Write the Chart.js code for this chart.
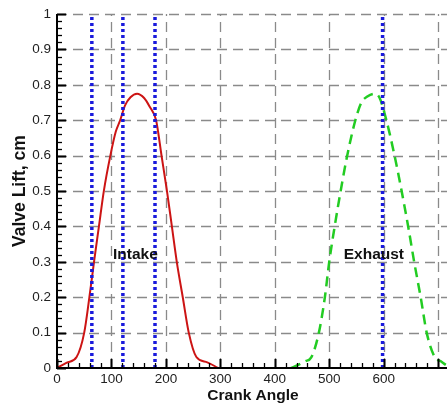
<!DOCTYPE html>
<html>
<head>
<meta charset="utf-8">
<script src="https://cdn.jsdelivr.net/npm/chart.js@4/dist/chart.umd.min.js"></script>
<style>
  html, body { margin: 0; padding: 0; background: #fff; overflow: hidden; }
  #wrap { width: 460px; height: 405px; }
</style>
</head>
<body>
<div id="wrap"><canvas id="c" width="460" height="405"></canvas></div>
<script>
// Intake valve lift profile (crank angle in degrees, lift in cm)
const intakeAngle = [0, 18, 36, 50, 59.5, 68, 77, 86, 98, 108, 116, 125, 135, 147, 160, 170, 182, 192, 202, 211, 220, 231, 242, 256, 276, 296];
const intakeLift  = [0, 0.015, 0.031, 0.1, 0.2, 0.3, 0.4, 0.5, 0.6, 0.668, 0.7, 0.742, 0.765, 0.775, 0.763, 0.739, 0.7, 0.6, 0.5, 0.4, 0.3, 0.2, 0.1, 0.031, 0.016, 0];

// Exhaust valve lift profile
const exhaustAngle = [430, 445, 456, 467, 481, 492, 500, 510, 521, 533, 548, 559, 570, 583, 592, 605, 620, 633, 645, 656, 668, 679, 694, 705, 715, 725];
const exhaustLift  = [0, 0.01, 0.019, 0.03, 0.1, 0.2, 0.3, 0.4, 0.5, 0.6, 0.7, 0.75, 0.767, 0.775, 0.765, 0.7, 0.6, 0.5, 0.4, 0.3, 0.2, 0.1, 0.03, 0.019, 0.008, 0];

// Crank angles marked with vertical dotted lines
const markerAngles = [64, 121, 180, 598];

// Phase labels and where they sit (crank angle, lift)
const phaseNames  = ['Intake', 'Exhaust'];
const phaseAngles = [144, 582];
const phaseLifts  = [0.32, 0.32];

// Axis ranges and tick spacing
const xRange = [0, 720];
const xMajor = 100, xMinor = 20;
const yRange = [0, 1];
const yMajor = 0.1, yMinor = 0.02;

const toPoints = (xs, ys) => xs.map((x, i) => ({ x, y: ys[i] }));

const markerSets = markerAngles.map(a => ({
  data: [{ x: a, y: yRange[0] }, { x: a, y: yRange[1] }],
  borderColor: '#1a1adc',
  borderWidth: 3.5,
  borderDash: [3, 3],
  pointRadius: 0,
  fill: false,
  tension: 0
}));

const gridAndAxes = {
  id: 'gridAndAxes',
  beforeDatasetsDraw(chart) {
    const { ctx, chartArea: a, scales: { x, y } } = chart;
    ctx.save();
    ctx.strokeStyle = '#8a8a8a';
    ctx.lineWidth = 1.3;
    ctx.setLineDash([10, 6]);
    for (let v = xRange[0] + xMajor; v <= xRange[1]; v += xMajor) {
      const px = Math.round(x.getPixelForValue(v)) + 0.5;
      ctx.beginPath(); ctx.moveTo(px, a.bottom); ctx.lineTo(px, a.top); ctx.stroke();
    }
    for (let k = 1; k * yMajor <= yRange[1] + 1e-9; k++) {
      const py = Math.round(y.getPixelForValue(k * yMajor)) + 0.5;
      ctx.beginPath(); ctx.moveTo(a.left, py); ctx.lineTo(a.right, py); ctx.stroke();
    }
    ctx.restore();
  },
  afterDatasetsDraw(chart) {
    const { ctx, chartArea: a, scales: { x, y } } = chart;
    ctx.save();
    // phase labels
    ctx.fillStyle = '#111';
    ctx.font = 'bold 15.5px "Liberation Sans", Arial, sans-serif';
    ctx.textAlign = 'center';
    ctx.textBaseline = 'middle';
    phaseNames.forEach((t, i) => {
      ctx.fillText(t, x.getPixelForValue(phaseAngles[i]), y.getPixelForValue(phaseLifts[i]));
    });
    // axis lines
    ctx.setLineDash([]);
    ctx.strokeStyle = '#000';
    ctx.lineWidth = 2;
    ctx.beginPath();
    ctx.moveTo(a.left, a.top); ctx.lineTo(a.left, a.bottom); ctx.lineTo(a.right + 2, a.bottom);
    ctx.stroke();
    // inward ticks on x
    const nx = Math.round((xRange[1] - xRange[0]) / xMinor);
    for (let i = 0; i <= nx; i++) {
      const v = xRange[0] + i * xMinor;
      const major = Math.abs(v / xMajor - Math.round(v / xMajor)) < 1e-6;
      const px = Math.round(x.getPixelForValue(v)) + 0.5;
      ctx.lineWidth = major ? 2 : 1.3;
      ctx.beginPath(); ctx.moveTo(px, a.bottom); ctx.lineTo(px, a.bottom - (major ? 9 : 5)); ctx.stroke();
    }
    // inward ticks on y
    const ny = Math.round((yRange[1] - yRange[0]) / yMinor);
    for (let i = 0; i <= ny; i++) {
      const v = yRange[0] + i * yMinor;
      const major = Math.abs(v / yMajor - Math.round(v / yMajor)) < 1e-6;
      const py = Math.round(y.getPixelForValue(v)) + 0.5;
      ctx.lineWidth = major ? 2 : 1.3;
      ctx.beginPath(); ctx.moveTo(a.left, py); ctx.lineTo(a.left + (major ? 9 : 5), py); ctx.stroke();
    }
    ctx.restore();
  }
};

const tickFont = { family: '"Liberation Sans", Arial, sans-serif', size: 13.5 };
const titleFont = { family: '"Liberation Sans", Arial, sans-serif', size: 15.5, weight: 'bold' };

new Chart(document.getElementById('c'), {
  type: 'line',
  data: {
    datasets: [
      ...markerSets,
      {
        label: 'Intake',
        data: toPoints(intakeAngle, intakeLift),
        borderColor: '#cc1414',
        borderWidth: 2,
        pointRadius: 0,
        fill: false,
        cubicInterpolationMode: 'monotone'
      },
      {
        label: 'Exhaust',
        data: toPoints(exhaustAngle, exhaustLift),
        borderColor: '#22cc22',
        borderWidth: 2.5,
        borderDash: [10, 6],
        pointRadius: 0,
        fill: false,
        cubicInterpolationMode: 'monotone'
      }
    ]
  },
  options: {
    responsive: false,
    animation: false,
    events: [],
    clip: { left: 0, top: 0, right: 0, bottom: 0 },
    layout: { padding: { top: 13, right: 11, left: 0, bottom: 0 } },
    plugins: { legend: { display: false }, tooltip: { enabled: false } },
    scales: {
      x: {
        type: 'linear',
        min: xRange[0], max: xRange[1],
        grid: { display: false, drawTicks: false },
        border: { display: false },
        afterBuildTicks(s) { s.ticks = s.ticks.filter(t => t.value % xMajor === 0); },
        afterFit(s) { s.height = 37; },
        ticks: { stepSize: xMajor, color: '#222', font: tickFont, padding: 3, maxRotation: 0, autoSkip: false },
        title: { display: true, text: 'Crank Angle', color: '#111', font: titleFont, padding: { top: 0, bottom: 0 } }
      },
      y: {
        type: 'linear',
        min: yRange[0], max: yRange[1],
        grid: { display: false, drawTicks: false },
        border: { display: false },
        afterFit(s) { s.width = 57; },
        ticks: {
          stepSize: yMajor, color: '#222', font: tickFont, padding: 6,
          callback: v => String(+v.toFixed(2))
        },
        title: { display: true, text: 'Valve Lift, cm', color: '#111', font: { ...titleFont, size: 17.5 }, padding: { top: 10, bottom: 0 } }
      }
    }
  },
  plugins: [gridAndAxes]
});
</script>
</body>
</html>
